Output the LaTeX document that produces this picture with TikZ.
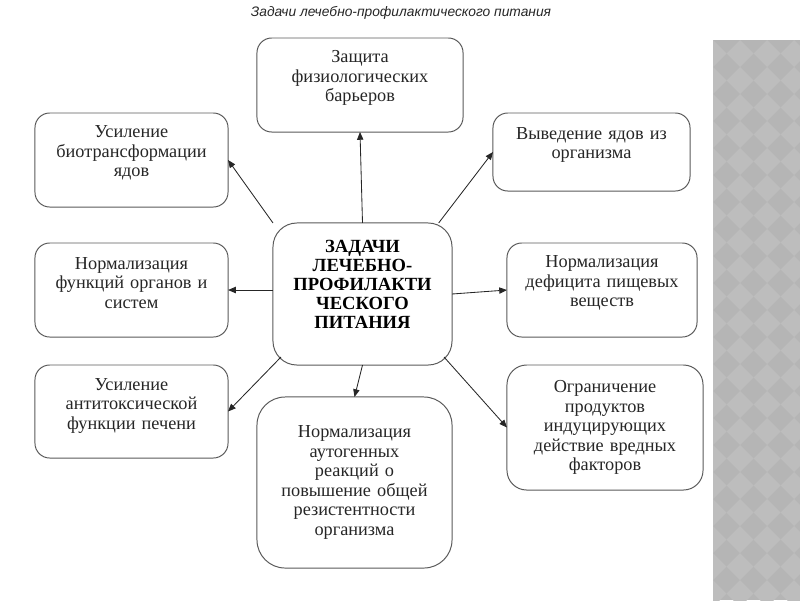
\documentclass[tikz,border=0pt]{standalone}
\usepackage{fontspec}
\setmainfont{Liberation Serif}
\newfontfamily\titlefont{Liberation Sans}
\usepackage{tikz}
\usetikzlibrary{arrows.meta, calc}
\definecolor{boxgray}{HTML}{5A5A5A}
\definecolor{inkgray}{HTML}{262626}
\definecolor{tilebase}{HTML}{B5B5B5}
\definecolor{tilelight}{HTML}{BDBDBD}

\tikzset{
    taskbox/.style={draw=boxgray, line width=0.7pt, rounded corners=10.5pt, fill=white,
                    text=inkgray, text width=4.4cm, align=center, inner sep=0pt, outer sep=0pt,
                    font=\fontsize{13}{13.9}\selectfont},
    lift/.style={execute at end node={\par\kern#1}},
    taskarrow/.style={draw=inkgray, line width=0.6pt, -{Triangle[length=5.5pt, width=4.5pt]}}
}

\begin{document}
\begin{tikzpicture}[x=0.025cm, y=-0.025cm]
    \useasboundingbox (0,0) rectangle (800,600);
    \fill[tilebase] (713,40) rectangle (800,600);
    \begin{scope}
        \clip (713,40) rectangle (800,600);
        \foreach \i in {0,...,4}
            \foreach \j in {0,...,21}
                \fill[tilelight] ({713+27*\i},{40+27*\j}) -- ++(13.5,13.5) -- ++(-13.5,13.5) -- ++(-13.5,-13.5) -- cycle;
    \end{scope}

    \node[font=\titlefont\itshape\fontsize{9.8}{11}\selectfont, text=inkgray] (heading) at (401,13)
        {Задачи лечебно-профилактического питания};

    \node[taskbox, rounded corners=17pt, minimum width=4.475cm, minimum height=3.55cm, lift=14pt,
          font=\fontsize{13.2}{13.6}\selectfont\bfseries, text=black] (core) at (362.5,294)
        {ЗАДАЧИ\\ЛЕЧЕБНО-\\ПРОФИЛАКТИ\\ЧЕСКОГО\\ПИТАНИЯ};

    \node[taskbox, minimum width=5.15cm, minimum height=2.35cm, lift=10pt] (barrier) at (360,85)
        {Защита\\физиологических\\барьеров};
    \node[taskbox, minimum width=4.825cm, minimum height=2.35cm, lift=10pt] (biotrans) at (131.5,160)
        {Усиление\\биотрансформации\\ядов};
    \node[taskbox, minimum width=4.925cm, minimum height=1.95cm, lift=10pt] (removal) at (591.5,152)
        {Выведение ядов из\\организма};
    \node[taskbox, minimum width=4.825cm, minimum height=2.35cm, lift=10pt] (organs) at (131.5,290)
        {Нормализация\\функций органов и\\систем};
    \node[taskbox, minimum width=4.75cm, minimum height=2.35cm, lift=10pt] (deficit) at (602,290)
        {Нормализация\\дефицита пищевых\\веществ};
    \node[taskbox, minimum width=4.825cm, minimum height=2.325cm, lift=8pt] (liver) at (131.5,411.5)
        {Усиление\\антитоксической\\функции печени};
    \node[taskbox, rounded corners=20pt, minimum width=4.875cm, minimum height=4.275cm] (resist) at (354.5,482.5)
        {Нормализация\\аутогенных\\реакций о\\повышение общей\\резистентности\\организма};
    \node[taskbox, rounded corners=14pt, minimum width=4.9cm, minimum height=3.125cm] (harm) at (605,427.5)
        {Ограничение\\продуктов\\индуцирующих\\действие вредных\\факторов};

    \draw[taskarrow] (core.north) -- (barrier.south);
    \draw[taskarrow] (core.north west) -- (biotrans.east);
    \draw[taskarrow] (core.43) -- (removal.west);
    \draw[taskarrow] (core.west |- organs.east) -- (organs.east);
    \draw[taskarrow] (core.east) -- (deficit.west);
    \draw[taskarrow] ($(core.south west)+(8,-8)$) -- (liver.east);
    \draw[taskarrow] (core.south) -- (resist.north);
    \draw[taskarrow] ($(core.south east)+(-8,-8)$) -- (harm.west);
\end{tikzpicture}
\end{document}
